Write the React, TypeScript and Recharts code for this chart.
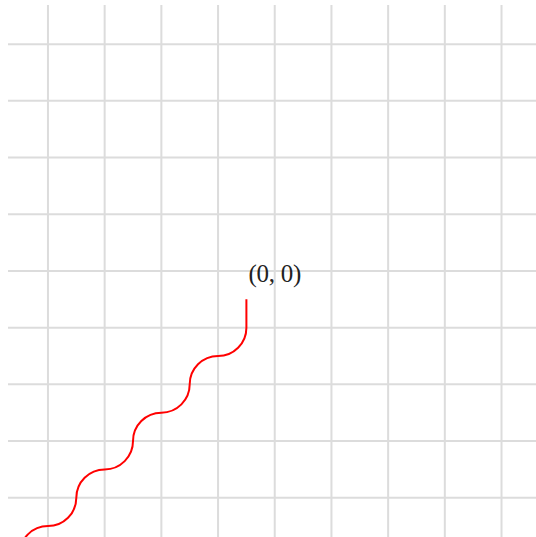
import {
  Line,
  LineChart,
  ReferenceDot,
  ReferenceLine,
  XAxis,
  YAxis,
} from "recharts";

// staircase path, corners get rounded by the curve below
const pathX = [0, 0, -1, -1, -2, -2, -3, -3, -4, -4];
const pathY = [0, -1, -1, -2, -2, -3, -3, -4, -4, -5];

const gridTicksX = [-3.5, -2.5, -1.5, -0.5, 0.5, 1.5, 2.5, 3.5, 4.5];
const gridTicksY = [-3.5, -2.5, -1.5, -0.5, 0.5, 1.5, 2.5, 3.5, 4.5];

const originLabel = "(0, 0)";

const data = pathX.map((x, i) => ({ x, y: pathY[i] }));

// d3 curve: polyline with every corner replaced by a quarter circle
function roundedStep(context: any) {
  let pts: [number, number][] = [];
  return {
    areaStart() {},
    areaEnd() {},
    lineStart() {
      pts = [];
    },
    point(x: number, y: number) {
      pts.push([+x, +y]);
    },
    lineEnd() {
      if (!pts.length) return;
      context.moveTo(pts[0][0], pts[0][1]);
      for (let i = 1; i < pts.length - 1; i++) {
        const [px, py] = pts[i - 1];
        const [cx, cy] = pts[i];
        const [nx, ny] = pts[i + 1];
        const r =
          Math.min(Math.hypot(cx - px, cy - py), Math.hypot(nx - cx, ny - cy)) / 2;
        context.arcTo(cx, cy, nx, ny, r);
      }
      const last = pts[pts.length - 1];
      context.lineTo(last[0], last[1]);
    },
  };
}

function OriginLabel({ viewBox }: any) {
  if (!viewBox) return null;
  return (
    <text
      x={viewBox.x + 2}
      y={viewBox.y - 17}
      fontFamily="'Liberation Serif', serif"
      fontSize={25}
      fill="#222"
      textLength={53}
      lengthAdjust="spacing"
    >
      {originLabel}
    </text>
  );
}

export default function App() {
  return (
    <div style={{ position: "absolute", left: 0, top: 0 }}>
      <LineChart
        width={536}
        height={537}
        data={data}
        margin={{ top: 5, right: 0, bottom: 0, left: 8 }}
      >
        <XAxis
          type="number"
          dataKey="x"
          domain={[-4.205, 5.108]}
          ticks={gridTicksX}
          allowDataOverflow
          hide
        />
        <YAxis
          type="number"
          dataKey="y"
          domain={[-4.192, 5.19]}
          ticks={gridTicksY}
          allowDataOverflow
          hide
        />
        {gridTicksX.map((t) => (
          <ReferenceLine key={`vx${t}`} x={t} stroke="#dcdcdc" strokeWidth={2} />
        ))}
        {gridTicksY.map((t) => (
          <ReferenceLine key={`hy${t}`} y={t} stroke="#dcdcdc" strokeWidth={2} />
        ))}
        <Line
          dataKey="y"
          type={roundedStep as any}
          stroke="#ff0000"
          strokeWidth={2}
          dot={false}
          activeDot={false}
          isAnimationActive={false}
        />
        <ReferenceDot
          x={0}
          y={0}
          r={0}
          fill="none"
          stroke="none"
          label={<OriginLabel />}
        />
      </LineChart>
    </div>
  );
}
